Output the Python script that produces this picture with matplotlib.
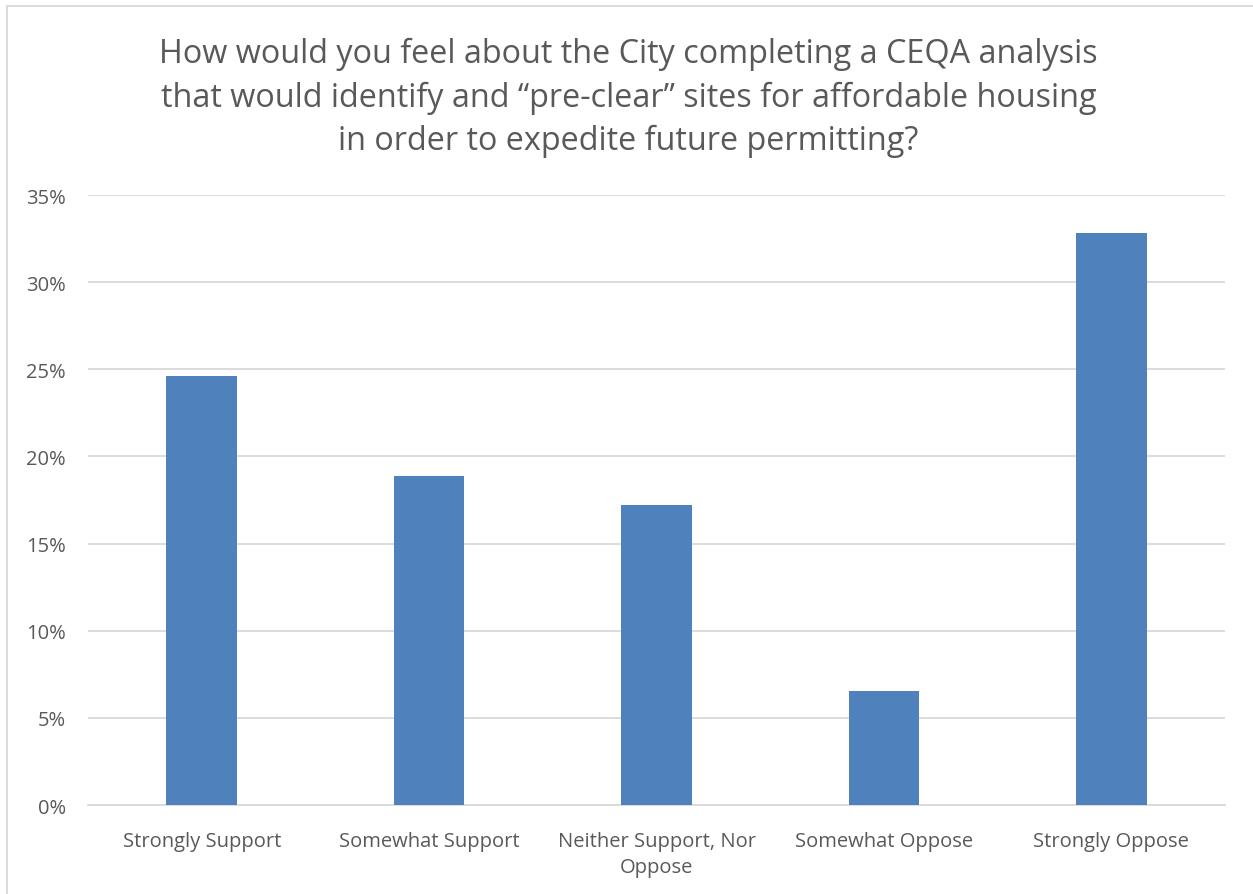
import matplotlib
matplotlib.use("Agg")
import matplotlib.pyplot as plt
from matplotlib.ticker import PercentFormatter, MultipleLocator
from matplotlib.lines import Line2D

categories = ["Strongly Support", "Somewhat Support", "Neither Support, Nor\nOppose",
              "Somewhat Oppose", "Strongly Oppose"]
values = [24.6, 18.85, 17.2, 6.55, 32.8]
title = ("How would you feel about the City completing a CEQA analysis\n"
         "that would identify and \u201cpre-clear\u201d sites for affordable housing\n"
         "in order to expedite future permitting?")

plt.rcParams['font.family'] = ['Open Sans', 'DejaVu Sans']
txt = '#595959'
W, H = 1253, 895
fig = plt.figure(figsize=(W/100, H/100), dpi=100)
ax = fig.add_axes([88/W, 1-806/H, (1225-88)/W, (806-196)/H])

x = list(range(len(categories)))
ax.bar(x, values, width=0.31, color='#4f81bd', zorder=3)
ax.set_xlim(-0.5, len(categories)-0.5)
ax.set_ylim(0, 35)
ax.yaxis.set_major_locator(MultipleLocator(5))
ax.yaxis.set_major_formatter(PercentFormatter(decimals=0))
ax.grid(axis='y', color='#d9d9d9', linewidth=1.3, zorder=0)
for s in ['top', 'right', 'left']:
    ax.spines[s].set_visible(False)
ax.spines['bottom'].set_color('#d9d9d9')
ax.spines['bottom'].set_linewidth(1.3)
ax.tick_params(axis='both', length=0, colors=txt, labelsize=14.5)
ax.tick_params(axis='y', pad=16)
ax.tick_params(axis='x', pad=19)
ax.set_xticks(x)
ax.set_xticklabels(categories, linespacing=1.4)

fig.text(0.5 + 2/W, 1-98/H, title, ha='center', va='center', fontsize=23.3, color=txt,
         linespacing=1.41)

fig.add_artist(Line2D([6.5/W, 6.5/W], [0, 1-6.5/H], transform=fig.transFigure,
                      color='#d9d9d9', linewidth=1.3))
fig.add_artist(Line2D([6.5/W, 1], [1-6.5/H, 1-6.5/H], transform=fig.transFigure,
                      color='#d9d9d9', linewidth=1.3))

fig.savefig("out.png", dpi=100, facecolor='white')
